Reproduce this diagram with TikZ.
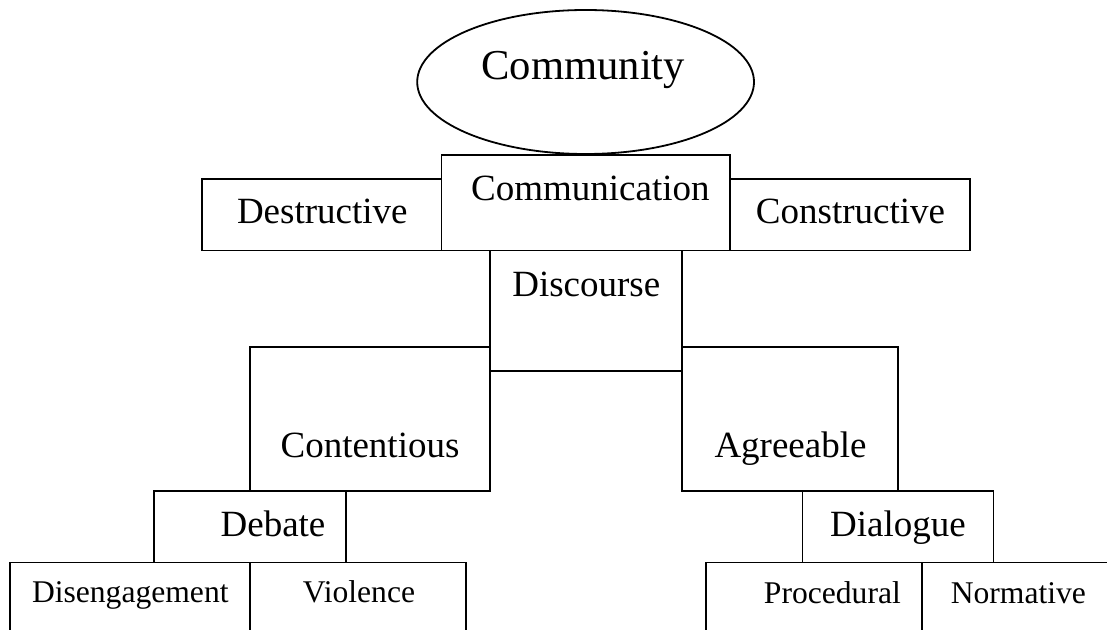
\documentclass[tikz,border=0pt]{standalone}
\usepackage{fontspec}
\setmainfont{Liberation Serif}
\usetikzlibrary{fit,shapes.geometric}
\begin{document}
\begin{tikzpicture}[x=0.5pt,y=-0.5pt,
  box/.style={draw, rectangle, inner sep=0pt, line width=0.9pt},
  lbl/.style={anchor=base, inner sep=0pt, font=\fontsize{18.5pt}{22pt}\selectfont},
  small/.style={anchor=base, inner sep=0pt, font=\fontsize{15.8pt}{19pt}\selectfont},
  big/.style={anchor=base, inner sep=0pt, font=\fontsize{21.3pt}{26pt}\selectfont}]
\useasboundingbox (0,0) rectangle (1107,630);
\clip (0,0) rectangle (1107,630);
% boxes
\node[draw, ellipse, inner sep=0pt, line width=0.9pt, minimum width=168.4pt, minimum height=72pt] (community) at (585.6,82) {};
\node[box, fit={(441.5,155) (730,250.5)}] (communication) {};
\node[box, fit={(201.7,179.3) (441.5,250.5)}] (destructive) {};
\node[box, fit={(730,179.3) (970,250.5)}] (constructive) {};
\node[box, fit={(490,250.5) (682,370.7)}] (discourse) {};
\node[box, fit={(250,346.7) (490,491)}] (contentious) {};
\node[box, fit={(682,346.7) (897.6,491)}] (agreeable) {};
\node[box, fit={(153.6,491) (345.7,562.5)}] (debate) {};
\node[box, fit={(802.4,491) (993.5,562.5)}] (dialogue) {};
\node[box, fit={(9.6,562.5) (250,680)}] (disengagement) {};
\node[box, fit={(250,562.5) (466,680)}] (violence) {};
\node[box, fit={(706,562.5) (921.7,680)}] (procedural) {};
\node[box, fit={(921.7,562.5) (1140,680)}] (normative) {};
% texts
\node[big] (tcommunity) at (583.3,79.5) {Community};
\node[lbl] (tcommunication) at (590.4,200.5) {Communication};
\node[lbl] (tdestructive) at (322.3,224) {Destructive};
\node[lbl] (tconstructive) at (850.5,224) {Constructive};
\node[lbl] (tdiscourse) at (586.3,297) {Discourse};
\node[lbl] (tcontentious) at (370,457) {Contentious};
\node[lbl] (tagreeable) at (790.5,457) {Agreeable};
\node[lbl] (tdebate) at (273,536) {Debate};
\node[lbl] (tdialogue) at (898,536) {Dialogue};
\node[small] (tdisengagement) at (130.3,602.5) {Disengagement};
\node[small] (tviolence) at (359,602.5) {Violence};
\node[small] (tprocedural) at (832.4,603) {Procedural};
\node[small] (tnormative) at (1018.4,603) {Normative};
\end{tikzpicture}
\end{document}
